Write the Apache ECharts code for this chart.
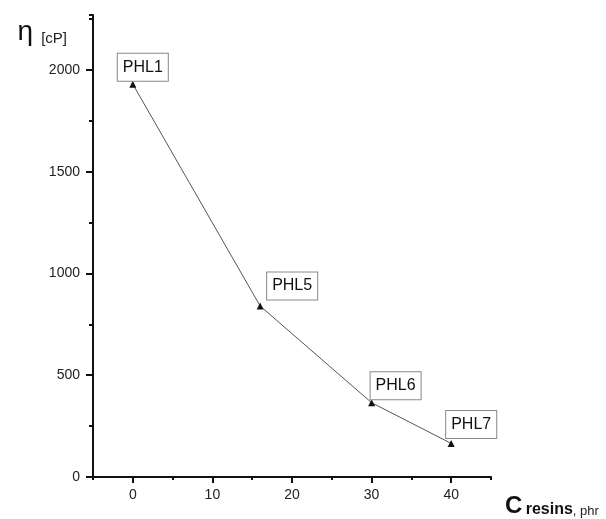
<!DOCTYPE html>
<head>
    <meta charset="utf-8">
    <title>ECharts</title>
</head>
<body style="margin:0;background:#fff">
    <div id="main" style="height:519px;width:606px"></div>
    <script src="https://cdn.jsdelivr.net/npm/echarts@6/dist/echarts.min.js"></script>
    <script type="text/javascript">
    // data
    var resinPhr = [0, 16, 30, 40];
    var viscosity = [1930, 840, 365, 165];
    var sampleNames = ['PHL1', 'PHL5', 'PHL6', 'PHL7'];
    var xTickValues = [0, 10, 20, 30, 40];

    // where each box sits relative to its point
    var labelOffsets = [[10, -17], [32, -20], [24, -17], [20, -19]];

    var myChart = echarts.init(document.getElementById('main'));

    var points = [];
    for (var i = 0; i < resinPhr.length; i++) {
        points.push({
            name: sampleNames[i],
            value: [resinPhr[i], viscosity[i]],
            label: { offset: labelOffsets[i] }
        });
    }

    var axisLine = { show: true, onZero: false, lineStyle: { color: '#111', width: 2 } };
    var plain = function (v) { return String(v); };

    var option = {
        animation: false,
        textStyle: { fontFamily: 'Liberation Sans, Arial, sans-serif' },
        grid: { left: 93, right: 115, top: 15, bottom: 42, outerBoundsMode: 'none', containLabel: false },
        xAxis: [
            {
                type: 'value',
                position: 'bottom',
                min: -5, max: 45, interval: 5,
                axisLine: axisLine,
                splitLine: { show: false },
                axisTick: { show: true, customValues: xTickValues, length: 6, lineStyle: { color: '#111', width: 2 } },
                axisLabel: { customValues: xTickValues, color: '#222', fontSize: 14, margin: 11, formatter: plain },
                name: '{c|C} {r|resins}{p|, phr}',
                nameLocation: 'end',
                nameGap: 14,
                nameTextStyle: {
                    align: 'left', verticalAlign: 'top', padding: [15, 0, 0, 0],
                    rich: {
                        c: { fontSize: 24, fontWeight: 'bold', color: '#111', verticalAlign: 'bottom', lineHeight: 26 },
                        r: { fontSize: 16, fontWeight: 'bold', color: '#111', verticalAlign: 'bottom', lineHeight: 26 },
                        p: { fontSize: 13, color: '#222', verticalAlign: 'bottom', lineHeight: 26 }
                    }
                }
            },
            {
                type: 'value',
                position: 'bottom',
                offset: 0,
                min: -5, max: 45, interval: 5,
                axisLine: { show: false, onZero: false },
                splitLine: { show: false },
                axisTick: { show: true, length: 3, lineStyle: { color: '#111', width: 2 } },
                axisLabel: { show: false }
            }
        ],
        yAxis: [
            {
                type: 'value',
                position: 'left',
                min: 0, max: 2270, interval: 500,
                axisLine: axisLine,
                splitLine: { show: false },
                axisTick: { show: true, length: 7, lineStyle: { color: '#111', width: 2 } },
                axisLabel: { color: '#222', fontSize: 14, margin: 13, showMaxLabel: false, formatter: plain },
                name: '{e|η}{u|[cP]}',
                nameLocation: 'end',
                nameGap: -17,
                nameTextStyle: {
                    align: 'right', verticalAlign: 'middle', padding: [0, 26, 0, 0],
                    rich: {
                        e: { fontSize: 28, color: '#111', padding: [0, 8, 0, 0], verticalAlign: 'bottom', lineHeight: 28 },
                        u: { fontSize: 15, color: '#222', verticalAlign: 'bottom', lineHeight: 25 }
                    }
                }
            },
            {
                type: 'value',
                position: 'left',
                offset: 0,
                min: 0, max: 2270, interval: 250,
                axisLine: { show: false, onZero: false },
                splitLine: { show: false },
                axisTick: { show: true, length: 4, lineStyle: { color: '#111', width: 2 } },
                axisLabel: { show: false }
            }
        ],
        series: [
            {
                type: 'line',
                data: points,
                symbol: 'triangle',
                symbolSize: 7,
                itemStyle: { color: '#111' },
                lineStyle: { color: '#555', width: 1 },
                label: {
                    show: true,
                    position: 'inside',
                    formatter: '{b}',
                    color: '#111',
                    fontSize: 16,
                    backgroundColor: '#fff',
                    borderColor: '#888',
                    borderWidth: 1,
                    padding: [6, 5, 5, 5]
                }
            }
        ]
    };
    myChart.setOption(option);
    </script>
</body>
